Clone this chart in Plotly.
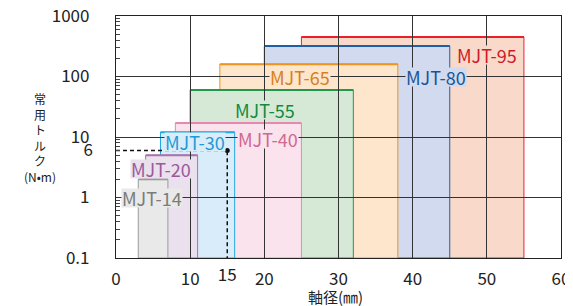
import plotly.graph_objects as go
import math

models = ["MJT-14", "MJT-20", "MJT-30", "MJT-40", "MJT-55", "MJT-65", "MJT-80", "MJT-95"]
shaft_min = [3, 4, 6, 8, 10, 14, 20, 25]
shaft_max = [7, 11, 16, 25, 32, 38, 45, 55]
torque = [2, 5, 12, 17, 60, 160, 320, 450]

ref_shaft = 15
ref_torque = 6

x_ticks = [0, 10, 20, 30, 40, 50, 60]
y_ticks = [0.1, 1, 10, 100, 1000]
y_tick_text = ["0.1", "1", "10", "100", "1000"]

# label positions (x in mm, y in N·m)
label_x = [4.85, 6.0, 10.7, 20.5, 20.1, 24.8, 43.1, 50.0]
label_y = [0.97, 3.0, 8.3, 9.1, 27.6, 97, 97, 230]

fills = ["#e8e9e8", "#ebe0ee", "#d8ecf9", "#fbe3ee", "#d6e9d6", "#fde6cc", "#d1daef", "#f9d9c9"]
edges = ["#9a9a9a", "#a873ad", "#24a8e0", "#e888b0", "#1f9a4c", "#f0921e", "#1f5fa8", "#e8202c"]
text_cols = ["#7b7b7b", "#9a5a9a", "#1f9ad6", "#d06890", "#138a40", "#d8801a", "#1a5596", "#d01a28"]

FONT = "Noto Sans CJK JP"
fig = go.Figure()

shapes = []
for i in reversed(range(len(models))):
    shapes.append(dict(type="rect", xref="x", yref="y", layer="below",
                       x0=shaft_min[i], x1=shaft_max[i], y0=0.1, y1=torque[i],
                       fillcolor=fills[i], line=dict(color=edges[i], width=1)))
    shapes.append(dict(type="line", xref="x", yref="y", layer="below",
                       x0=shaft_min[i], x1=shaft_max[i], y0=torque[i], y1=torque[i],
                       line=dict(color=edges[i], width=2)))

annotations = []
for i in range(len(models)):
    annotations.append(dict(x=label_x[i], y=math.log10(label_y[i]), xref="x", yref="y",
                            text=models[i], showarrow=False, height=18,
                            font=dict(family=FONT, size=18, color=text_cols[i]),
                            bgcolor=fills[i], borderpad=0))

annotations.append(dict(x=-0.171, y=0.496, xref="paper", yref="paper",
                        xanchor="center", yanchor="middle",
                        text="常<br>用<br>ト<br>ル<br>ク<br>(N•m)",
                        showarrow=False, font=dict(family=FONT, size=12, color="#222"),
                        align="center"))
annotations.append(dict(x=0.493, y=-0.16, xref="paper", yref="paper",
                        xanchor="center", yanchor="middle",
                        text="軸径(㎜)", showarrow=False,
                        font=dict(family=FONT, size=15, color="#222")))

# reference dashed line
fig.add_trace(go.Scatter(x=[0, ref_shaft, ref_shaft], y=[ref_torque, ref_torque, 0.1],
                         mode="lines", line=dict(color="#111", width=1.5, dash="4px,3px"),
                         hoverinfo="skip", showlegend=False))
fig.add_trace(go.Scatter(x=[ref_shaft], y=[ref_torque], mode="markers",
                         marker=dict(color="#111", size=5), hoverinfo="skip", showlegend=False))
# dummy trace for overlay axes
fig.add_trace(go.Scatter(x=[ref_shaft], y=[ref_torque], xaxis="x2", yaxis="y2", mode="markers",
                         marker=dict(opacity=0), hoverinfo="skip", showlegend=False))

minor_vals = [m * 10 ** e for e in range(-1, 3) for m in range(2, 10)]
tf = dict(family=FONT, size=17, color="#222")

fig.update_layout(
    width=565, height=298,
    margin=dict(l=108, r=12, t=8, b=48, autoexpand=False),
    paper_bgcolor="white", plot_bgcolor="white",
    showlegend=False,
    shapes=shapes, annotations=annotations,
    xaxis=dict(range=[0, 60], tickvals=x_ticks, showgrid=True, gridcolor="#333", gridwidth=1,
               showline=True, linecolor="#222", linewidth=1.2, mirror=True, zeroline=False,
               ticks="", ticklabelstandoff=5, automargin=False, tickfont=tf,
               ticklabeloverflow="allow"),
    yaxis=dict(type="log", range=[-1, 3], tickvals=y_ticks, ticktext=y_tick_text,
               showgrid=True, gridcolor="#333", gridwidth=1,
               showline=True, linecolor="#222", linewidth=1.2, mirror=True, zeroline=False,
               ticks="", ticklabelstandoff=22, automargin=False, ticklabeloverflow="allow",
               minor=dict(tickvals=minor_vals, ticks="inside", ticklen=4, tickcolor="#444", showgrid=False),
               tickfont=tf),
    xaxis2=dict(range=[0, 60], overlaying="x", side="bottom", tickvals=[ref_shaft], showgrid=False,
                showline=False, zeroline=False, ticks="", ticklabelstandoff=5, automargin=False,
                tickfont=tf, ticklabeloverflow="allow"),
    yaxis2=dict(type="log", range=[-1, 3], overlaying="y", side="left", tickvals=[ref_torque],
                showgrid=False, showline=False, zeroline=False, ticks="", ticklabelstandoff=22,
                automargin=False, tickfont=tf, ticklabeloverflow="allow"),
)

fig.write_html("out.html")
